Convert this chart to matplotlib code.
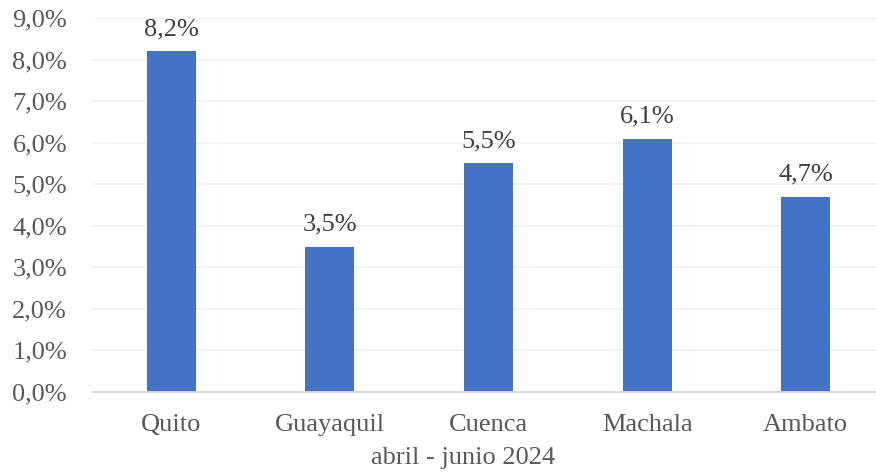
import matplotlib
matplotlib.use('Agg')
import matplotlib.pyplot as plt
from matplotlib.ticker import FuncFormatter

ciudades = ['Quito', 'Guayaquil', 'Cuenca', 'Machala', 'Ambato']
valores = [8.2, 3.5, 5.5, 6.1, 4.7]
etiquetas = ['8,2%', '3,5%', '5,5%', '6,1%', '4,7%']

plt.rcParams['font.family'] = ['Liberation Serif', 'DejaVu Serif']

fig = plt.figure(figsize=(8.76, 4.75), dpi=100)
ax = fig.add_axes([92 / 876, 1 - 392 / 475, 793 / 876, 374 / 475])

barras = ax.bar(range(len(ciudades)), valores, width=0.31, color='#4472C4', zorder=3)

for x, v, t in zip(range(len(ciudades)), valores, etiquetas):
    ax.annotate(t, (x, v), xytext=(0, 8), textcoords='offset points',
                ha='center', va='bottom', fontsize=19, color='#404040')

ax.set_xlim(-0.5, 4.5)
ax.set_ylim(0, 9)
ax.set_yticks([i for i in range(10)])
ax.yaxis.set_major_formatter(FuncFormatter(lambda v, p: f'{v:.1f}%'.replace('.', ',')))
ax.set_xticks(range(len(ciudades)))
ax.set_xticklabels(ciudades)
ax.tick_params(axis='both', length=0, labelsize=19, labelcolor='#595959')
ax.tick_params(axis='y', pad=18)
ax.tick_params(axis='x', pad=16)

ax.grid(axis='y', color='#edf0f6', linewidth=1.2, zorder=0)
for s in ['top', 'right', 'left']:
    ax.spines[s].set_visible(False)
ax.spines['bottom'].set_color('#d9d9d9')
ax.spines['bottom'].set_linewidth(1.3)
ax.spines['bottom'].set_zorder(4)

fig.text(463 / 876, 1 - 458 / 475, 'abril - junio 2024', ha='center', va='center',
         fontsize=19, color='#595959')

fig.savefig('out.png', dpi=100)
